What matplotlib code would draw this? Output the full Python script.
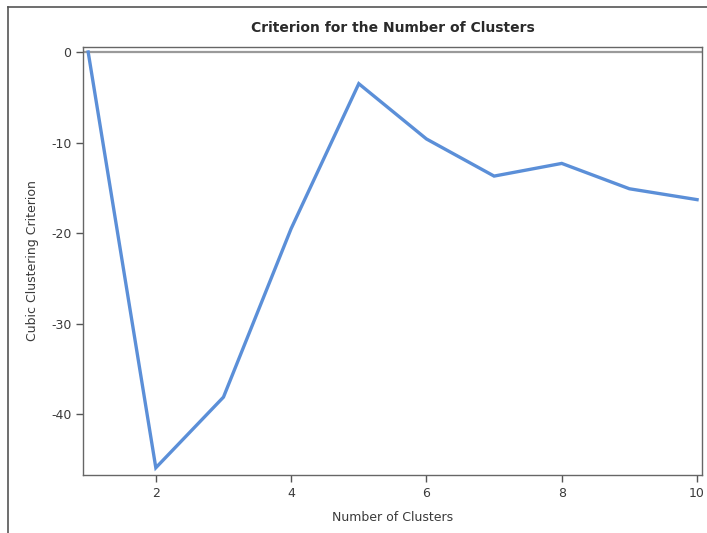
import matplotlib
matplotlib.use("Agg")
import matplotlib.pyplot as plt
from matplotlib.lines import Line2D

clusters = [1, 2, 3, 4, 5, 6, 7, 8, 9, 10]
ccc = [0.0, -45.9, -38.1, -19.5, -3.5, -9.6, -13.7, -12.3, -15.1, -16.3]
x_ticks = [2, 4, 6, 8, 10]
y_ticks = [0, -10, -20, -30, -40]

plt.rcParams['font.family'] = ['DejaVu Sans']

fig = plt.figure(figsize=(7.07, 5.33), dpi=100)
ax = fig.add_axes([0.118, 0.1088, 0.8756, 0.803])

ax.axhline(0, color='#9a9a9a', lw=1.6, zorder=1)
ax.plot(clusters, ccc, color='#5B8FD8', lw=2.4, solid_joinstyle='miter', zorder=3)

ax.set_xlim(0.93, 10.08)
ax.set_ylim(-46.7, 0.55)
ax.set_xticks(x_ticks)
ax.set_yticks(y_ticks)
ax.set_xticklabels([str(v) for v in x_ticks])
ax.set_yticklabels([str(v) for v in y_ticks])

for s in ax.spines.values():
    s.set_color('#666666')
    s.set_linewidth(1.0)
ax.tick_params(colors='#555555', labelcolor='#3a3a3a', labelsize=9, length=5, width=1)

ax.set_xlabel('Number of Clusters', fontsize=9, color='#3a3a3a', labelpad=8)
ax.set_ylabel('Cubic Clustering Criterion', fontsize=9, color='#3a3a3a', labelpad=9)
ax.set_title('Criterion for the Number of Clusters', fontsize=10, fontweight='bold',
             color='#2a2a2a', pad=11)

# outer border (left and top edges)
fig.add_artist(Line2D([8/707, 8/707], [0, 1 - 7/533], transform=fig.transFigure,
                      color='#555555', lw=1.2))
fig.add_artist(Line2D([8/707, 1], [1 - 7/533, 1 - 7/533], transform=fig.transFigure,
                      color='#555555', lw=1.2))

fig.savefig('out.png', dpi=100)
